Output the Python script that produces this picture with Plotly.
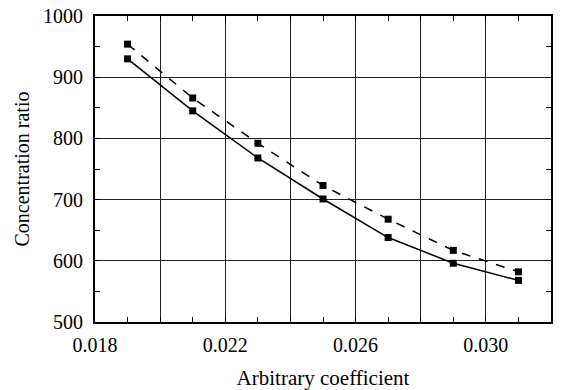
import plotly.graph_objects as go

x_vals = [0.019, 0.021, 0.023, 0.025, 0.027, 0.029, 0.031]
solid_vals = [930, 845, 768, 701, 638, 596, 568]
dashed_vals = [954, 866, 792, 723, 668, 617, 582]

x_tickvals = [0.018, 0.020, 0.022, 0.024, 0.026, 0.028, 0.030, 0.032]
x_ticktext = ["0.018", "", "0.022", "", "0.026", "", "0.030", ""]
y_tickvals = [500, 600, 700, 800, 900, 1000]

font_family = "Times New Roman, Liberation Serif, DejaVu Serif, serif"

fig = go.Figure()
fig.add_trace(go.Scatter(
    x=x_vals, y=dashed_vals, mode="lines+markers",
    line=dict(color="black", width=1.5, dash="dash"),
    marker=dict(symbol="square", size=7, color="black"),
    showlegend=False))
fig.add_trace(go.Scatter(
    x=x_vals, y=solid_vals, mode="lines+markers",
    line=dict(color="black", width=1.5),
    marker=dict(symbol="square", size=7, color="black"),
    showlegend=False))

axis_common = dict(
    showline=True, linecolor="black", linewidth=2, mirror="allticks",
    ticks="inside", ticklen=5, tickcolor="black", tickwidth=1,
    showgrid=True, gridcolor="#222", gridwidth=1,
    zeroline=False, automargin=False,
    tickfont=dict(family=font_family, size=20, color="black"),
)

fig.update_xaxes(
    range=[0.018, 0.032], tickvals=x_tickvals, ticktext=x_ticktext,
    ticklabelstandoff=4,
    minor=dict(dtick=0.001, tick0=0.018, ticks="inside", ticklen=5, tickcolor="black", showgrid=False),
    title=dict(text="Arbitrary coefficient", font=dict(family=font_family, size=21, color="black"), standoff=16),
    **axis_common)
fig.update_yaxes(
    range=[500, 1000], tickvals=y_tickvals,
    ticklabelstandoff=6,
    minor=dict(dtick=50, tick0=500, ticks="inside", ticklen=5, tickcolor="black", showgrid=False),
    title=dict(text="Concentration ratio", font=dict(family=font_family, size=20, color="black"), standoff=8),
    **axis_common)

fig.update_layout(
    width=562, height=390,
    margin=dict(l=95, r=11, t=16, b=68),
    plot_bgcolor="white", paper_bgcolor="white",
    font=dict(family=font_family, color="black"),
)

fig.write_html("out.html")
